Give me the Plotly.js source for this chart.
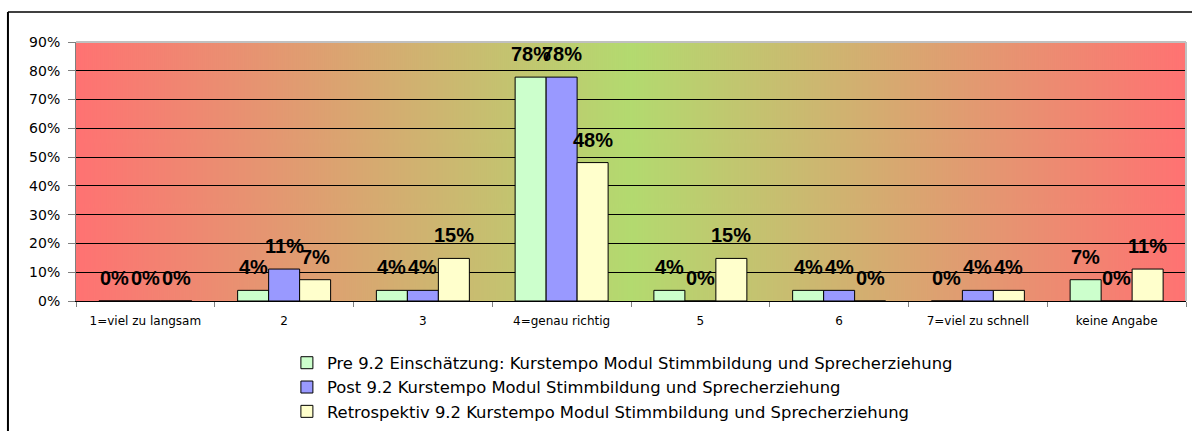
<!DOCTYPE html>
<html>
<head>
<meta charset="utf-8">
<script src="https://cdn.plot.ly/plotly-3.0.1.min.js"></script>
<style>html,body{margin:0;padding:0;background:#fff;}#chart{width:1192px;height:431px;}</style>
</head>
<body>
<div id="chart"></div>
<script>
const categories = ['1=viel zu langsam', '2', '3', '4=genau richtig', '5', '6', '7=viel zu schnell', 'keine Angabe'];
const preValues = [0, 0.037, 0.037, 0.778, 0.037, 0.037, 0, 0.074];
const postValues = [0, 0.111, 0.037, 0.778, 0, 0.037, 0.037, 0];
const retroValues = [0, 0.074, 0.148, 0.481, 0.148, 0, 0.037, 0.111];
const seriesNames = [
  'Pre 9.2 Einschätzung: Kurstempo Modul Stimmbildung und Sprecherziehung',
  'Post 9.2 Kurstempo Modul Stimmbildung und Sprecherziehung',
  'Retrospektiv 9.2 Kurstempo Modul Stimmbildung und Sprecherziehung'
];
const seriesColors = ['#CCFFCC', '#9999FF', '#FFFFCC'];
const seriesValues = [preValues, postValues, retroValues];

// background gradient (red - green - red)
const cv = document.createElement('canvas');
cv.width = 1110; cv.height = 4;
const ctx = cv.getContext('2d');
const g = ctx.createLinearGradient(0, 0, 1110, 0);
g.addColorStop(0, '#FF7272');
g.addColorStop(0.5, '#B3DA6F');
g.addColorStop(1, '#FF7272');
ctx.fillStyle = g; ctx.fillRect(0, 0, 1110, 4);
const bgUrl = cv.toDataURL('image/png');

const traces = seriesValues.map((vals, i) => ({
  type: 'bar',
  x: categories,
  y: vals,
  name: seriesNames[i],
  legendgroup: 'g' + i,
  marker: {color: seriesColors[i], line: {color: '#000', width: 1}},
  hoverinfo: 'skip'
}));

const annotations = [];
seriesValues.forEach((vals, i) => {
  vals.forEach((v, j) => {
    annotations.push({
      x: j, y: v, xref: 'x', yref: 'y',
      text: '<b>' + Math.round(v * 100) + '%</b>',
      showarrow: false, xanchor: 'center', yanchor: 'middle',
      xshift: (i - 1) * 31, yshift: 23,
      font: {family: 'Liberation Sans, Arial', size: 20, color: '#000'}
    });
  });
});

const layout = {
  width: 1192, height: 431,
  margin: {l: 76, r: 6, t: 42, b: 130, pad: 0, autoexpand: false},
  paper_bgcolor: '#fff',
  plot_bgcolor: 'rgba(0,0,0,0)',
  barmode: 'group',
  bargap: 0.33,
  bargroupgap: 0,
  showlegend: true,
  legend: {
    x: 0.19, xanchor: 'left', y: -0.172, yanchor: 'top',
    traceorder: 'grouped', tracegroupgap: 0,
    font: {family: 'DejaVu Sans', size: 16.4, color: '#000'},
    bgcolor: 'rgba(0,0,0,0)', itemwidth: 30
  },
  xaxis: {
    type: 'category',
    tickson: 'boundaries', ticks: 'outside', ticklen: 5, tickcolor: '#808080',
    showline: true, linecolor: '#000', linewidth: 1,
    showgrid: false,
    tickfont: {family: 'DejaVu Sans', size: 12, color: '#000'},
    ticklabelstandoff: 9,
    fixedrange: true
  },
  yaxis: {
    range: [0, 0.9], dtick: 0.1, tick0: 0, tickformat: '.0%',
    ticks: 'outside', ticklen: 7, tickcolor: '#808080',
    showline: true, linecolor: '#808080', linewidth: 1,
    showgrid: true, gridcolor: '#000', gridwidth: 1,
    zeroline: true, zerolinecolor: '#000', zerolinewidth: 1,
    tickfont: {family: 'DejaVu Sans', size: 14, color: '#000'},
    ticklabelstandoff: 5,
    fixedrange: true
  },
  images: [{
    source: bgUrl, xref: 'paper', yref: 'paper', x: 0, y: 1,
    sizex: 1, sizey: 1, sizing: 'stretch', xanchor: 'left', yanchor: 'top', layer: 'below'
  }],
  shapes: [
    {type: 'line', xref: 'paper', yref: 'paper', x0: 0, x1: 1, y0: 1, y1: 1, line: {color: '#C0C0C0', width: 2}},
    {type: 'line', xref: 'paper', yref: 'paper', x0: 1, x1: 1, y0: 0, y1: 1, line: {color: '#C0C0C0', width: 2}},
    {type: 'line', xref: 'paper', yref: 'paper', x0: -0.0613, x1: 1.1, y0: 1.1158, y1: 1.1158, line: {color: '#000', width: 1.5}},
    {type: 'line', xref: 'paper', yref: 'paper', x0: -0.0613, x1: -0.0613, y0: -0.6, y1: 1.1158, line: {color: '#000', width: 2}}
  ],
  annotations: annotations
};

Plotly.newPlot('chart', traces, layout, {displayModeBar: false, staticPlot: true});
</script>
</body>
</html>
